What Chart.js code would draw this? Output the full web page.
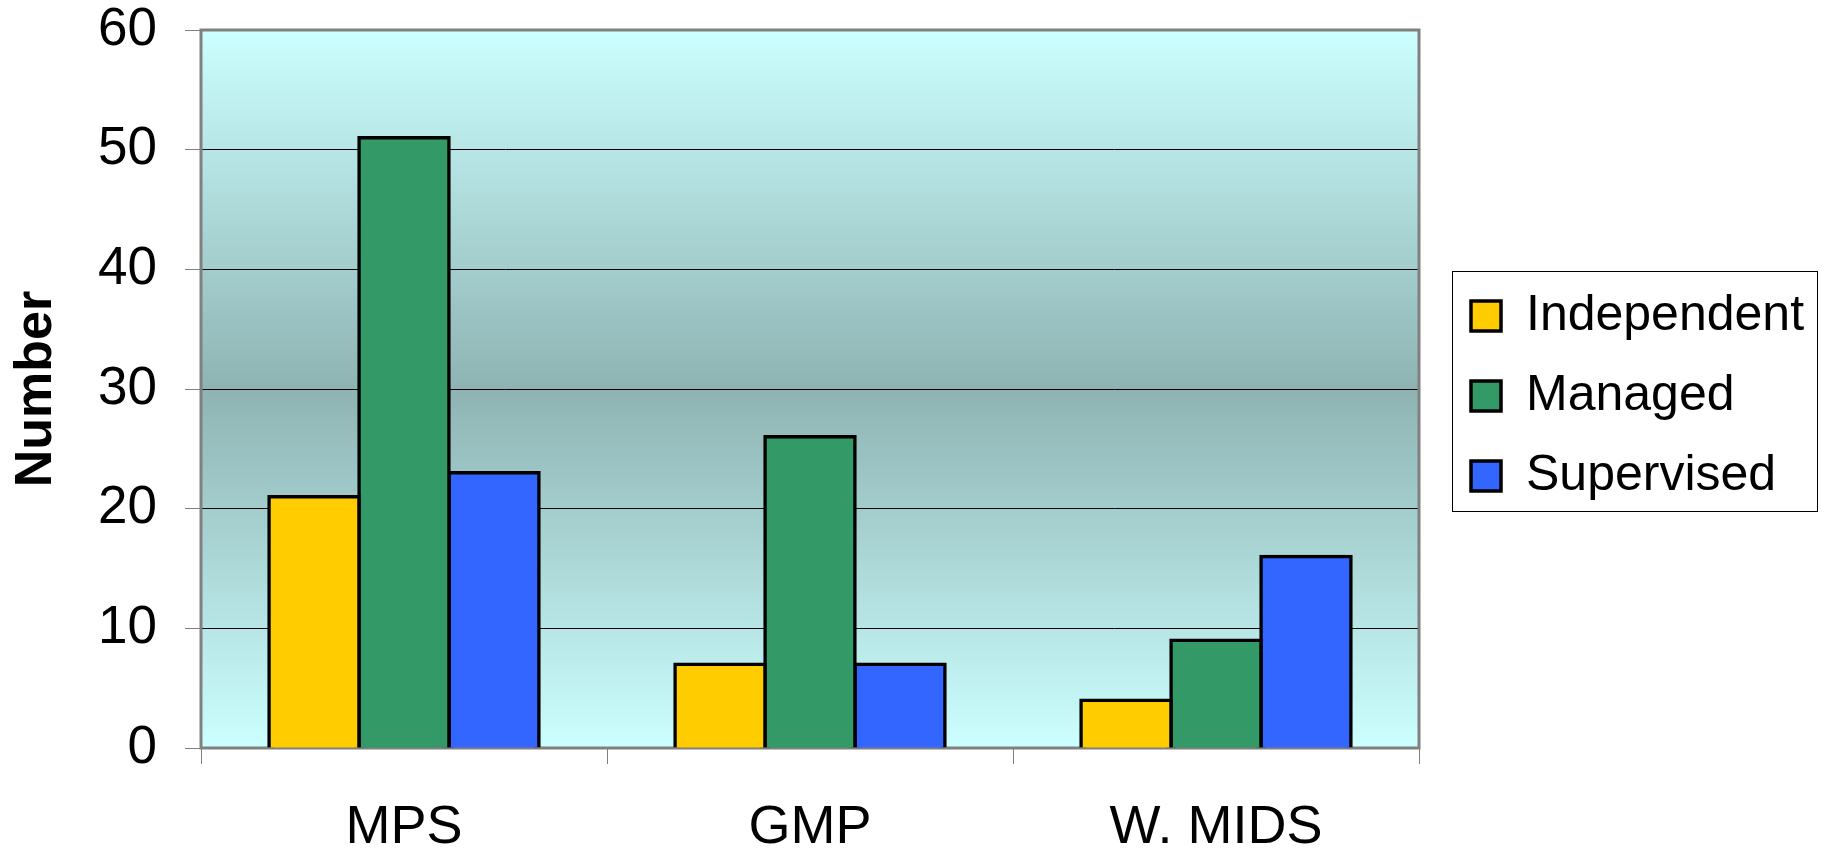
<!DOCTYPE html>
<html>
<head>
<meta charset="utf-8">
<script src="https://cdn.jsdelivr.net/npm/chart.js@4/dist/chart.umd.min.js"></script>
<style>
  html, body { margin: 0; padding: 0; background: #fff; }
  #wrap { width: 1822px; height: 851px; }
</style>
</head>
<body>
<div id="wrap"><canvas id="chart" width="1822" height="851"></canvas></div>
<script>
// --- data ---
const categories = ['MPS', 'GMP', 'W. MIDS'];
const independent = [21, 7, 4];
const managed = [51, 26, 9];
const supervised = [23, 7, 16];
const yTicks = [0, 10, 20, 30, 40, 50, 60];

Chart.defaults.font.family = '"Liberation Sans", Arial, sans-serif';
Chart.defaults.color = '#000';

const LEGEND_W = 398;   // space taken by the legend column on the right
const LEGEND_GAP = 22;  // empty space between plot and legend
const LEGEND_DROP = 7;  // legend sits a little below the plot's middle

// plot background: light cyan fading to grey-teal in the middle
const plotBackground = {
    id: 'plotBackground',
    beforeDraw(chart) {
        const { ctx, chartArea: a } = chart;
        const g = ctx.createLinearGradient(0, a.top, 0, a.bottom);
        g.addColorStop(0, '#CCFFFF');
        g.addColorStop(0.5, '#8FB3B3');
        g.addColorStop(1, '#CCFFFF');
        ctx.save();
        ctx.fillStyle = g;
        ctx.fillRect(a.left, a.top, a.right - a.left, a.bottom - a.top);
        ctx.restore();
    },
    beforeDatasetsDraw(chart) {
        const { ctx, chartArea: a } = chart;
        ctx.save();
        ctx.strokeStyle = '#808080';
        ctx.lineWidth = 3;
        ctx.strokeRect(a.left, a.top, a.right - a.left, a.bottom - a.top);
        ctx.restore();
    }
};

// push the legend away from the plot and draw a box round it
const legendBox = {
    id: 'legendBox',
    beforeLayout(chart) {
        const lg = chart.legend;
        if (lg && !lg._patched) {
            const fit = lg.fit;
            lg.fit = function () { fit.call(this); this.width = LEGEND_W; };
            lg._patched = true;
        }
    },
    afterLayout(chart) {
        const lg = chart.legend;
        lg.left += LEGEND_GAP;
        lg.top += LEGEND_DROP;
        lg.bottom += LEGEND_DROP;
    },
    afterDraw(chart) {
        const hb = chart.legend.legendHitBoxes;
        if (!hb || !hb.length) return;
        const first = hb[0], last = hb[hb.length - 1];
        const left = first.left - 19;
        const top = first.top + first.height / 2 - 45;
        const bottom = last.top + last.height / 2 + 35;
        const ctx = chart.ctx;
        ctx.save();
        ctx.strokeStyle = '#000';
        ctx.lineWidth = 1;
        ctx.strokeRect(Math.round(left) + 0.5, Math.round(top) + 0.5, 365, Math.round(bottom - top));
        ctx.restore();
    }
};

new Chart(document.getElementById('chart'), {
    type: 'bar',
    data: {
        labels: categories,
        datasets: [
            { label: 'Independent', data: independent, backgroundColor: '#FFCC00' },
            { label: 'Managed', data: managed, backgroundColor: '#339966' },
            { label: 'Supervised', data: supervised, backgroundColor: '#3366FF' }
        ]
    },
    options: {
        responsive: false,
        animation: false,
        layout: { padding: { left: 5, right: 5, top: 30, bottom: 0 } },
        datasets: {
            bar: {
                borderColor: '#000',
                borderWidth: 3.5,
                inflateAmount: 1.75,
                categoryPercentage: 0.665,
                barPercentage: 1.0
            }
        },
        scales: {
            x: {
                grid: {
                    drawOnChartArea: false,
                    tickLength: 16,
                    tickColor: '#808080',
                    lineWidth: 1
                },
                border: { display: false },
                ticks: { font: { size: 54 }, padding: 32, color: '#000' },
                afterFit: (scale) => { scale.height = 103; }
            },
            y: {
                min: 0,
                max: 60,
                afterBuildTicks: (scale) => { scale.ticks = yTicks.map(v => ({ value: v })); },
                grid: {
                    color: '#000',
                    lineWidth: 1,
                    tickLength: 16,
                    tickColor: '#808080'
                },
                border: { display: false },
                ticks: { font: { size: 53 }, padding: 28, color: '#000' },
                title: {
                    display: true,
                    text: 'Number',
                    font: { size: 52, weight: 'bold' },
                    padding: 0,
                    color: '#000'
                },
                afterFit: (scale) => {
                    scale.width = 196;
                    scale.paddingTop = 0;
                    scale.paddingBottom = 0;
                }
            }
        },
        plugins: {
            legend: {
                position: 'right',
                fullSize: false,
                labels: {
                    font: { size: 50 },
                    color: '#000',
                    boxWidth: 30,
                    boxHeight: 30,
                    padding: 30
                }
            },
            tooltip: { enabled: false }
        }
    },
    plugins: [plotBackground, legendBox]
});
</script>
</body>
</html>
